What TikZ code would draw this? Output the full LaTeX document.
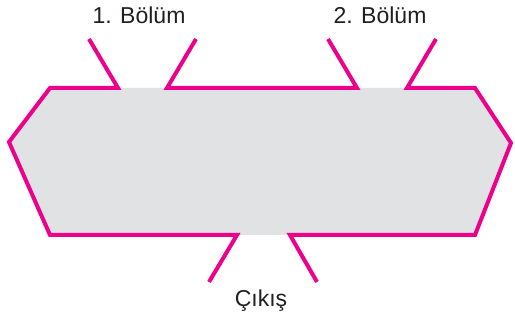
\documentclass[tikz,border=0pt]{standalone}
\usepackage{fontspec}
\setmainfont{Liberation Sans}
\definecolor{mag}{HTML}{EC008C}
\definecolor{fillgray}{HTML}{E1E2E3}
\definecolor{txt}{HTML}{231F20}
\begin{document}
\begin{tikzpicture}[x=1pt,y=1pt,
  wall/.style={draw=mag,line width=4pt,miter limit=10},
  lbl/.style={anchor=base,inner sep=0pt,text=txt,font=\fontsize{23}{27}\selectfont}]
\useasboundingbox (0,0) rectangle (515,320);
% corners (y up)
\coordinate (tl) at (50,232);
\coordinate (lp) at (9,178);
\coordinate (bl) at (50,85);
\coordinate (br) at (475,85);
\coordinate (rp) at (511,177);
\coordinate (tr) at (475,232);
% top-left opening
\coordinate (a1) at (118,232); \coordinate (a1s) at (89,281);
\coordinate (a2) at (167,232); \coordinate (a2s) at (196,281);
% top-right opening
\coordinate (b1) at (357,232); \coordinate (b1s) at (328,281);
\coordinate (b2) at (407,232); \coordinate (b2s) at (436,281);
% bottom opening
\coordinate (c1) at (237,85); \coordinate (c1s) at (209,38);
\coordinate (c2) at (290,85); \coordinate (c2s) at (317,38);
\fill[fillgray] (tl) -- (tr) -- (rp) -- (br) -- (bl) -- (lp) -- cycle;
\draw[wall] (a1s) -- (a1) -- (tl) -- (lp) -- (bl) -- (c1) -- (c1s);
\draw[wall] (a2s) -- (a2) -- (b1) -- (b1s);
\draw[wall] (b2s) -- (b2) -- (tr) -- (rp) -- (br) -- (c2) -- (c2s);
\node[lbl] (l1) at (139,296) {1. Bölüm};
\node[lbl] (l2) at (380,296) {2. Bölüm};
\node[lbl] (l3) at (261,13) {Çıkış};
\end{tikzpicture}
\end{document}
